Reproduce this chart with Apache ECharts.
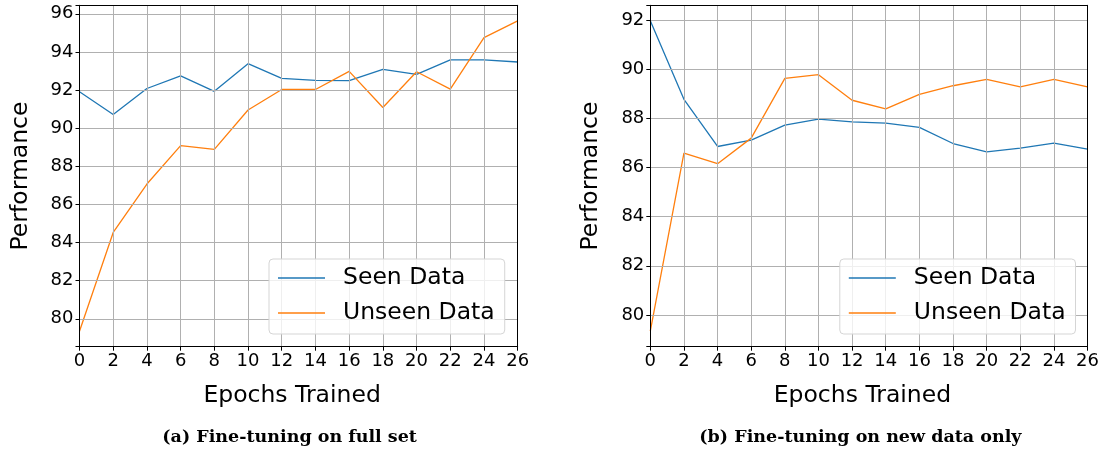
<!DOCTYPE html>
<html>
<head>
<meta charset="utf-8">
<script src="https://cdn.jsdelivr.net/npm/echarts@6/dist/echarts.min.js"></script>
<style>
  html, body { margin: 0; padding: 0; background: #fff; }
  #chart { width: 1102px; height: 451px; }
</style>
</head>
<body>
<div id="chart"></div>
<script>
// Epochs at which each model was evaluated
const epochs = [0, 2, 4, 6, 8, 10, 12, 14, 16, 18, 20, 22, 24, 26];
const xTicks = [0, 2, 4, 6, 8, 10, 12, 14, 16, 18, 20, 22, 24, 26];

// (a) Fine-tuning on the full set
const fullSeen   = [91.91, 90.72, 92.08, 92.74, 91.93, 93.38, 92.61, 92.51, 92.49, 93.08, 92.82, 93.58, 93.58, 93.47];
const fullUnseen = [79.35, 84.53, 87.07, 89.08, 88.89, 90.95, 92.03, 92.03, 92.98, 91.08, 92.96, 92.05, 94.75, 95.63];

// (b) Fine-tuning on new data only
const newSeen    = [91.96, 88.77, 86.85, 87.11, 87.72, 87.96, 87.85, 87.80, 87.63, 86.97, 86.63, 86.78, 86.99, 86.74];
const newUnseen  = [79.34, 86.58, 86.15, 87.19, 89.62, 89.77, 88.73, 88.38, 88.97, 89.32, 89.58, 89.27, 89.58, 89.27];

const seriesNames = ['Seen Data', 'Unseen Data'];
const captions = ['(a) Fine-tuning on full set', '(b) Fine-tuning on new data only'];
const xTitle = 'Epochs Trained';
const yTitle = 'Performance';

const BLUE = '#1f77b4', ORANGE = '#ff7f0e';
const GRID_GRAY = '#b0b0b0';
const TICK_FONT = 18, TITLE_FONT = 23.5, LEGEND_FONT = 23.5;

// y limits padded by 5% of the data span on each side
function paddedRange(a, b) {
  const all = a.concat(b);
  const lo = Math.min(...all), hi = Math.max(...all);
  const pad = (hi - lo) * 0.05;
  return [lo - pad, hi + pad];
}
const pairs = (ys) => epochs.map((e, i) => [e, ys[i]]);

const panels = [
  { left: 79.5,  seen: fullSeen, unseen: fullUnseen, split: 9 },
  { left: 650.3, seen: newSeen,  unseen: newUnseen,  split: 7 }
];
const GRID_TOP = 5.3, GRID_H = 341.4, GRID_W = 438.2;

const grid = [], xAxis = [], yAxis = [], series = [], legend = [], graphic = [];

panels.forEach((p, k) => {
  const [yMin, yMax] = paddedRange(p.seen, p.unseen);
  grid.push({
    left: p.left, top: GRID_TOP, width: GRID_W, height: GRID_H,
    show: false, containLabel: false
  });
  // bottom x axis with ticks and labels
  xAxis.push({
    type: 'value', gridIndex: k, min: xTicks[0], max: xTicks[xTicks.length - 1], interval: 2,
    position: 'bottom',
    name: xTitle, nameLocation: 'middle', nameGap: 37,
    nameTextStyle: { fontFamily: 'DejaVu Sans', fontSize: TITLE_FONT, color: '#000', padding: [0, 13, 0, 0] },
    axisLine: { show: true, lineStyle: { color: '#000', width: 1 } },
    axisTick: { show: true, inside: false, length: 4, lineStyle: { color: '#000', width: 1 } },
    axisLabel: { fontFamily: 'DejaVu Sans', fontSize: TICK_FONT, color: '#000', margin: 6 },
    splitLine: { show: true, lineStyle: { color: GRID_GRAY, width: 1 } },
    z: 3
  });
  // top spine
  xAxis.push({
    type: 'value', gridIndex: k, min: xTicks[0], max: xTicks[xTicks.length - 1], interval: 2,
    position: 'top',
    axisLine: { show: true, onZero: false, lineStyle: { color: '#000', width: 1 } },
    axisTick: { show: false }, axisLabel: { show: false }, splitLine: { show: false },
    z: 3
  });
  yAxis.push({
    type: 'value', gridIndex: k, min: yMin, max: yMax, splitNumber: p.split,
    position: 'left',
    name: yTitle, nameLocation: 'middle', nameGap: 47,
    nameTextStyle: { fontFamily: 'DejaVu Sans', fontSize: TITLE_FONT, color: '#000' },
    axisLine: { show: true, onZero: false, lineStyle: { color: '#000', width: 1 } },
    axisTick: { show: true, inside: false, length: 4, lineStyle: { color: '#000', width: 1 } },
    axisLabel: {
      fontFamily: 'DejaVu Sans', fontSize: TICK_FONT, color: '#000', margin: 6,
      formatter: (v) => (Math.abs(v - Math.round(v)) < 1e-6 && Math.round(v) % 2 === 0) ? String(Math.round(v)) : ''
    },
    splitLine: { show: true, lineStyle: { color: GRID_GRAY, width: 1 } },
    z: 3
  });
  // right spine
  yAxis.push({
    type: 'value', gridIndex: k, min: yMin, max: yMax,
    position: 'right',
    axisLine: { show: true, onZero: false, lineStyle: { color: '#000', width: 1 } },
    axisTick: { show: false }, axisLabel: { show: false }, splitLine: { show: false },
    z: 3
  });

  const xi = k * 2, yi = k * 2;
  series.push({
    name: seriesNames[0], type: 'line', xAxisIndex: xi, yAxisIndex: yi,
    data: pairs(p.seen), symbol: 'none', showSymbol: false,
    lineStyle: { color: BLUE, width: 1.3 }, itemStyle: { color: BLUE },
    animation: false, z: 2
  });
  series.push({
    name: seriesNames[1], type: 'line', xAxisIndex: xi, yAxisIndex: yi,
    data: pairs(p.unseen), symbol: 'none', showSymbol: false,
    lineStyle: { color: ORANGE, width: 1.3 }, itemStyle: { color: ORANGE },
    animation: false, z: 2
  });

  legend.push({
    data: seriesNames.map((n) => ({ name: n, icon: 'rect' })),
    orient: 'vertical',
    left: p.left + 189.5, top: 259,
    padding: [7, 10, 9, 9],
    itemWidth: 47, itemHeight: 1.6, itemGap: 11,
    backgroundColor: 'rgba(255,255,255,0.8)',
    borderColor: '#d5d5d5', borderWidth: 1, borderRadius: 4,
    textStyle: { fontFamily: 'DejaVu Sans', fontSize: LEGEND_FONT, color: '#000', padding: [0, 0, 0, 13] },
    selectedMode: false, z: 5
  });

  graphic.push({
    type: 'text',
    x: p.left + GRID_W / 2 - 9, y: 437,
    style: {
      text: captions[k], align: 'center', verticalAlign: 'middle',
      font: 'bold 17.5px "DejaVu Serif"', fill: '#000'
    }
  });
});

const chart = echarts.init(document.getElementById('chart'), null, { renderer: 'canvas' });
chart.setOption({
  animation: false,
  backgroundColor: '#fff',
  grid, xAxis, yAxis, series, legend, graphic
});
</script>
</body>
</html>
